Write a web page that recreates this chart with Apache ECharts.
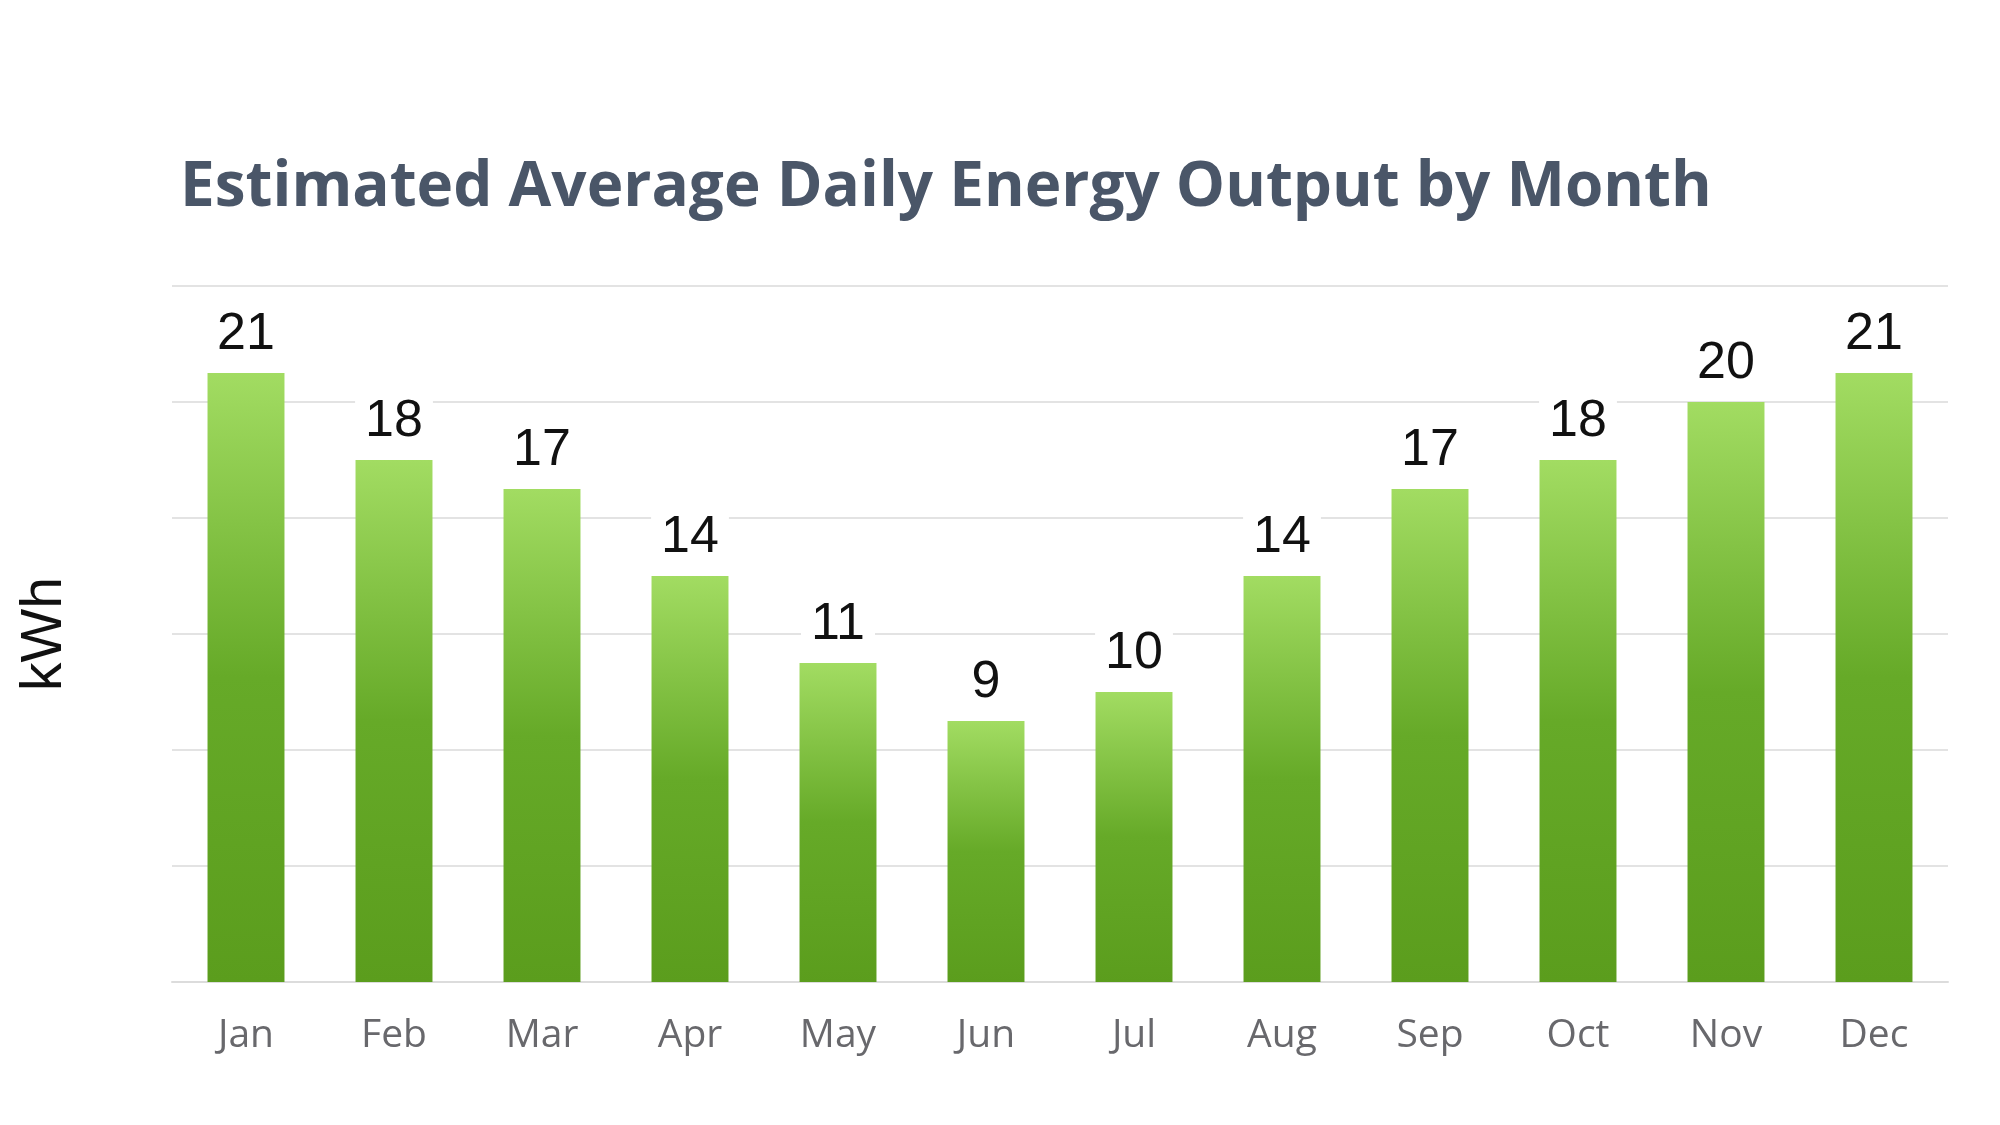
<!DOCTYPE html>
<html>
<head>
<meta charset="utf-8">
<script src="https://cdn.jsdelivr.net/npm/echarts@6/dist/echarts.min.js"></script>
<style>
html,body{margin:0;padding:0;background:#fff;}
#chart{width:2000px;height:1125px;}
</style>
</head>
<body>
<div id="chart"></div>
<script>
const titleText = 'Estimated Average Daily Energy Output by Month';
const axisName = 'kWh';
const months = ['Jan','Feb','Mar','Apr','May','Jun','Jul','Aug','Sep','Oct','Nov','Dec'];
const outputKWh = [21, 18, 17, 14, 11, 9, 10, 14, 17, 18, 20, 21];
const yMin = 0;
const yMax = 24;
const yInterval = 4;

const chart = echarts.init(document.getElementById('chart'), null, {renderer: 'canvas'});
chart.setOption({
  backgroundColor: '#ffffff',
  animation: false,
  title: {
    text: titleText,
    left: 175,
    top: 152,
    textStyle: {
      fontFamily: '"Open Sans", sans-serif',
      fontWeight: 'bold',
      fontSize: 62,
      color: '#4a5668'
    }
  },
  grid: {left: 172, right: 52, top: 286, bottom: 143, containLabel: false},
  xAxis: {
    type: 'category',
    data: months,
    axisLine: {show: true, lineStyle: {color: '#dcdcdc', width: 2}},
    axisTick: {show: false},
    axisLabel: {
      margin: 34,
      fontSize: 39,
      color: '#68686c',
      fontFamily: '"Open Sans", sans-serif'
    }
  },
  yAxis: {
    type: 'value',
    min: yMin,
    max: yMax,
    interval: yInterval,
    name: axisName,
    nameLocation: 'middle',
    nameGap: 98,
    nameRotate: 90,
    nameTextStyle: {fontSize: 57, color: '#111', fontFamily: '"Liberation Sans", Arial, sans-serif'},
    axisLine: {show: false},
    axisTick: {show: false},
    axisLabel: {show: false},
    splitLine: {lineStyle: {color: '#e3e3e3', width: 2}}
  },
  series: [{
    type: 'bar',
    data: outputKWh,
    barCategoryGap: '48%',
    itemStyle: {
      color: new echarts.graphic.LinearGradient(0, 0, 0, 1, [
        {offset: 0, color: '#a2dc62'},
        {offset: 0.5, color: '#66aa28'},
        {offset: 1, color: '#5b9d1d'}
      ])
    },
    label: {
      show: true,
      position: 'top',
      distance: 12,
      fontSize: 52,
      color: '#111',
      fontFamily: '"Liberation Sans", Arial, sans-serif',
      backgroundColor: '#ffffff',
      padding: [0, 10]
    }
  }]
});
</script>
</body>
</html>
